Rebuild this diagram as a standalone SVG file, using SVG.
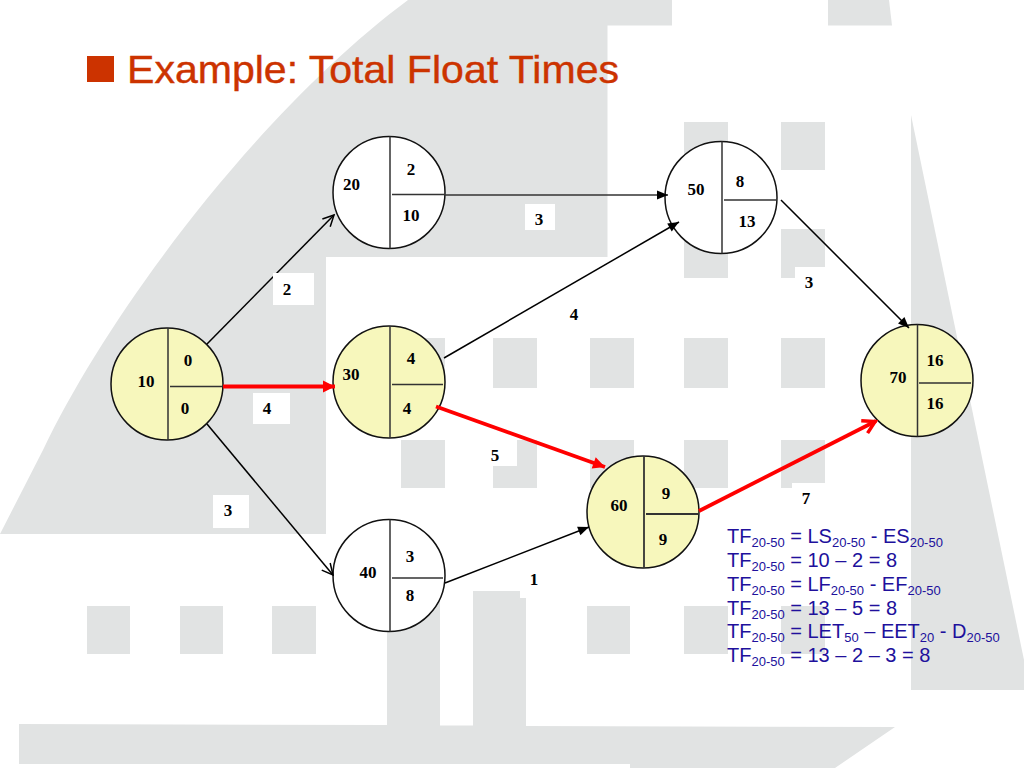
<svg xmlns="http://www.w3.org/2000/svg" width="1024" height="768" viewBox="0 0 1024 768">
<style>
.bg{fill:#e1e3e3}
.w{fill:#fff}
.c{stroke:#111;stroke-width:1.5}
.y{fill:#f7f7bc}
.n{fill:#fff}
.d{stroke:#333;stroke-width:1.5;fill:none}
.t{font-family:"Liberation Serif","Times New Roman",serif;font-weight:bold;font-size:17px;fill:#000;text-anchor:middle}
.e{fill:none;stroke:#000;stroke-width:1.5}
.r{fill:none;stroke:#f00;stroke-width:3.8}
.f{font-family:"Liberation Sans",Arial,sans-serif;font-size:20px;fill:#20109c}
.s{font-size:13px}
</style>
<defs>
<marker id="ao" markerUnits="userSpaceOnUse" markerWidth="18" markerHeight="18" refX="14" refY="9" orient="auto"><path d="M3,3.500L14,9L3,14.500" fill="none" stroke="#000" stroke-width="1.500"/></marker>
<marker id="af" markerUnits="userSpaceOnUse" markerWidth="14" markerHeight="14" refX="12" refY="7" orient="auto"><path d="M1,2.500L12,7L1,11.500z" fill="#000"/></marker>
<marker id="rf" markerUnits="userSpaceOnUse" markerWidth="16" markerHeight="18" refX="14" refY="9" orient="auto"><path d="M2,3L14,9L2,15z" fill="#f00"/></marker>
<marker id="ro" markerUnits="userSpaceOnUse" markerWidth="20" markerHeight="20" refX="17" refY="10" orient="auto"><path d="M4,3L16,10L4,17" fill="none" stroke="#f00" stroke-width="3.500"/></marker>
</defs>
<rect width="1024" height="768" fill="#fff"/>
<g id="background">
<path class="bg" d="M0,534L43,450C110,310 260,110 408,0L672,0L672,25.500L607.500,25.500L607.500,257L326,257L326,534z"/>
<path class="bg" d="M828,0L889,0L892,25.500L828,25.500z"/>
<path class="bg" d="M911,115L1024,660L1024,690L911,690z"/>
<path class="bg" d="M19,724L387,725L387,600L440,600L440,725.500L473,725.500L473,591L520,591L520,598L526,598L526,726L895,727L835,768L630,768L630,764L19,764z"/>
<rect class="bg" x="684" y="122" width="44" height="48"/>
<rect class="bg" x="781" y="122" width="44" height="48"/>
<rect class="bg" x="684" y="229" width="44" height="49"/>
<path class="bg" d="M781,229H825V267H795V278H781z"/>
<rect class="bg" x="401" y="338" width="44" height="50"/>
<rect class="bg" x="493" y="338" width="44" height="50"/>
<rect class="bg" x="590" y="338" width="44" height="50"/>
<rect class="bg" x="684" y="338" width="44" height="50"/>
<rect class="bg" x="781" y="338" width="44" height="50"/>
<rect class="bg" x="401" y="440" width="44" height="48"/>
<path class="bg" d="M517,440H537V488H493V466H517z"/>
<rect class="bg" x="590" y="440" width="44" height="48"/>
<rect class="bg" x="684" y="440" width="44" height="48"/>
<path class="bg" d="M781,440H825V483H792V488H781z"/>
<rect class="bg" x="87" y="606" width="43" height="48"/>
<rect class="bg" x="180" y="606" width="43" height="48"/>
<rect class="bg" x="272" y="606" width="44" height="48"/>
<rect class="bg" x="587" y="606" width="43" height="48"/>
<rect class="bg" x="684" y="606" width="44" height="48"/>
<rect class="bg" x="781" y="606" width="44" height="48"/>
</g>
<g id="title">
<rect x="87" y="56" width="27" height="26" fill="#cc3300"/>
<text x="127" y="83" font-family="'Liberation Sans',Arial,sans-serif" font-size="38" fill="#cc3300" stroke="#cc3300" stroke-width="0.400" textLength="492" lengthAdjust="spacingAndGlyphs">Example: Total Float Times</text>
</g>
<g id="node-10">
<circle class="c y" cx="167" cy="384" r="56"/>
<path class="d" d="M168,328V440M170,386.500H222"/>
<text class="t" x="146" y="386.500">10</text><text class="t" x="188" y="366">0</text><text class="t" x="185" y="414">0</text>
</g>
<g id="node-20">
<circle class="c n" cx="389" cy="192.500" r="56"/>
<path class="d" d="M390,136.500V248.500M392,194.500H444"/>
<text class="t" x="351.500" y="190">20</text><text class="t" x="411" y="175">2</text><text class="t" x="411" y="221">10</text>
</g>
<g id="node-30">
<circle class="c y" cx="389" cy="382" r="56"/>
<path class="d" d="M390,326V438M392,384.500H443"/>
<text class="t" x="351" y="380">30</text><text class="t" x="411" y="364">4</text><text class="t" x="407" y="414">4</text>
</g>
<g id="node-40">
<circle class="c n" cx="389" cy="575.500" r="56"/>
<path class="d" d="M390,519.500V631.500M392,578H443"/>
<text class="t" x="368" y="578">40</text><text class="t" x="410" y="562">3</text><text class="t" x="410" y="601">8</text>
</g>
<g id="node-50">
<circle class="c n" cx="721" cy="197.500" r="56"/>
<path class="d" d="M722,141.500V253.500M724,200H776"/>
<text class="t" x="696" y="195">50</text><text class="t" x="740" y="186.500">8</text><text class="t" x="747" y="226.500">13</text>
</g>
<g id="node-60">
<circle class="c y" cx="643" cy="512" r="56"/>
<path class="d" d="M644,456V568M646,514H698" style="stroke-width:1.800"/>
<text class="t" x="619" y="511">60</text><text class="t" x="666" y="499">9</text><text class="t" x="663" y="545">9</text>
</g>
<g id="node-70">
<circle class="c y" cx="917" cy="380.500" r="56"/>
<path class="d" d="M917.500,324.500V436.500M919,383H971"/>
<text class="t" x="898" y="383">70</text><text class="t" x="935" y="366">16</text><text class="t" x="935" y="409">16</text>
</g>
<g id="connectors">
<line class="e" x1="207" y1="344" x2="334" y2="215" marker-end="url(#ao)"/>
<line class="e" x1="445" y1="195" x2="668" y2="195" marker-end="url(#af)" style="stroke:#333"/>
<line class="e" x1="444" y1="358" x2="679" y2="222" marker-end="url(#af)"/>
<line class="e" x1="781" y1="200" x2="909" y2="328" marker-end="url(#af)"/>
<line class="e" x1="207" y1="424" x2="333" y2="575" marker-end="url(#ao)"/>
<line class="e" x1="445" y1="583" x2="589" y2="527" marker-end="url(#af)"/>
<line class="r" x1="223" y1="386.500" x2="335" y2="386.500" marker-end="url(#rf)"/>
<line class="r" x1="436" y1="406.500" x2="605" y2="467" marker-end="url(#rf)"/>
<line class="r" x1="699" y1="511" x2="876" y2="421" marker-end="url(#ro)"/>
</g>
<g id="edge-labels">
<rect class="w" x="273" y="273" width="41" height="32"/><text class="t" x="287" y="295">2</text>
<rect class="w" x="525" y="204" width="30" height="26"/><text class="t" x="539" y="225">3</text>
<text class="t" x="809" y="288">3</text>
<text class="t" x="574" y="320">4</text>
<rect class="w" x="253" y="393" width="37" height="31"/><text class="t" x="267" y="414">4</text>
<rect class="w" x="213" y="495" width="36" height="33"/><text class="t" x="228" y="516">3</text>
<text class="t" x="495" y="461">5</text>
<text class="t" x="534" y="585">1</text>
<text class="t" x="806" y="504">7</text>
</g>
<g id="formulas" class="f">
<text x="727" y="543">TF<tspan class="s" dy="4">20-50</tspan><tspan dy="-4"> = LS</tspan><tspan class="s" dy="4">20-50</tspan><tspan dy="-4"> - ES</tspan><tspan class="s" dy="4">20-50</tspan></text>
<text x="727" y="567">TF<tspan class="s" dy="4">20-50</tspan><tspan dy="-4"> = 10 – 2 = 8</tspan></text>
<text x="727" y="591">TF<tspan class="s" dy="4">20-50</tspan><tspan dy="-4"> = LF</tspan><tspan class="s" dy="4">20-50</tspan><tspan dy="-4"> - EF</tspan><tspan class="s" dy="4">20-50</tspan></text>
<text x="727" y="614.500">TF<tspan class="s" dy="4">20-50</tspan><tspan dy="-4"> = 13 – 5 = 8</tspan></text>
<text x="727" y="638">TF<tspan class="s" dy="4">20-50</tspan><tspan dy="-4"> = LET</tspan><tspan class="s" dy="4">50</tspan><tspan dy="-4"> – EET</tspan><tspan class="s" dy="4">20</tspan><tspan dy="-4"> - D</tspan><tspan class="s" dy="4">20-50</tspan></text>
<text x="727" y="662">TF<tspan class="s" dy="4">20-50</tspan><tspan dy="-4"> = 13 – 2 – 3 = 8</tspan></text>
</g>
</svg>
